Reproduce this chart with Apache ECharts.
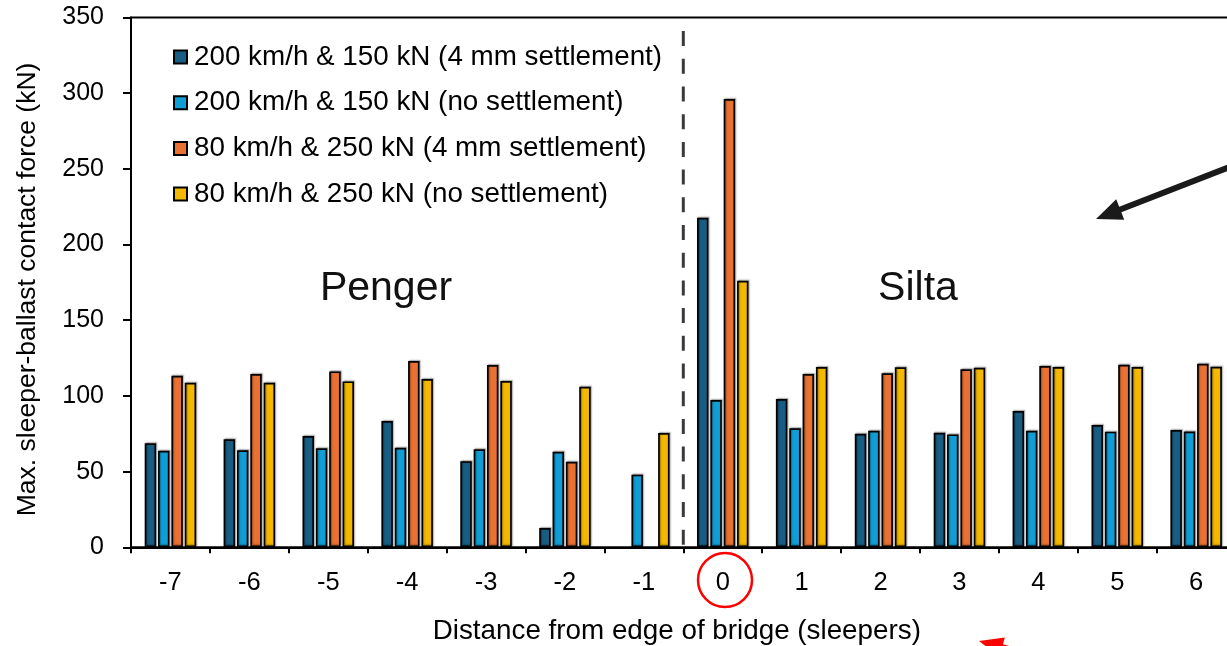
<!DOCTYPE html>
<html>
<head>
<meta charset="utf-8">
<title>Max. sleeper-ballast contact force</title>
<script src="https://cdn.jsdelivr.net/npm/echarts@6/dist/echarts.min.js"></script>
<style>
  html, body { margin: 0; padding: 0; background: #fff; }
  #chart { width: 1227px; height: 646px; }
</style>
</head>
<body>
<div id="chart"></div>
<script>
// Sleeper positions relative to the bridge edge (negative = embankment side)
const categories = ['-7', '-6', '-5', '-4', '-3', '-2', '-1', '0', '1', '2', '3', '4', '5', '6'];

// Max. sleeper-ballast contact force (kN) per loading case
const fast4mm   = [68.7, 71.3, 73.5, 83.4, 56.8, 12.7, null, 217.7, 98.0, 75.0, 75.7, 90.0, 80.8, 77.5];
const fastFlat  = [63.8, 64.1, 65.4, 65.8, 64.7, 63.1, 48.0, 97.3, 78.6, 77.0, 74.6, 77.0, 76.4, 76.5];
const heavy4mm  = [113.3, 114.5, 116.2, 123.1, 120.4, 56.5, null, 296.1, 114.5, 114.9, 117.6, 119.7, 120.6, 121.3];
const heavyFlat = [108.7, 108.7, 109.6, 111.2, 109.8, 106.1, 75.5, 176.1, 119.1, 118.9, 118.6, 119.1, 119.1, 119.3];

const seriesNames = [
  '200 km/h & 150 kN (4 mm settlement)',
  '200 km/h & 150 kN (no settlement)',
  '80 km/h & 250 kN (4 mm settlement)',
  '80 km/h & 250 kN (no settlement)'
];
const seriesColors = ['#185e84', '#109ed6', '#e97132', '#f5b800'];
const seriesData = [fast4mm, fastFlat, heavy4mm, heavyFlat];

const yTicks = { min: 0, max: 350, interval: 50 };
const bridgeEdge = -0.5;   // boundary between sleeper -1 and sleeper 0

const FONT = '"Liberation Sans", Arial, Helvetica, sans-serif';

const chart = echarts.init(document.getElementById('chart'));

const bars = seriesData.map((d, i) => ({
  name: seriesNames[i],
  type: 'bar',
  data: d,
  barWidth: 11.5,
  barGap: '16%',
  itemStyle: {
    color: seriesColors[i],
    borderColor: '#000',
    borderWidth: 1.7,
    shadowColor: 'rgba(0,0,0,0.35)',
    shadowBlur: 1.5,
    shadowOffsetX: 1,
    shadowOffsetY: -1
  },
  emphasis: { disabled: true },
  animation: false
}));

// Arrow helper: tip point, unit direction pointing toward the tip
function arrow(tip, dir, tailLen, headLen, headHalf, width, color) {
  const back = [-dir[0], -dir[1]];
  const n = [dir[1], -dir[0]];
  const base = [tip[0] + back[0] * headLen, tip[1] + back[1] * headLen];
  const tail = [tip[0] + back[0] * tailLen, tip[1] + back[1] * tailLen];
  return [
    {
      type: 'line', silent: true, z: 50,
      shape: { x1: tail[0], y1: tail[1], x2: base[0] + dir[0] * 2, y2: base[1] + dir[1] * 2 },
      style: { stroke: color, lineWidth: width }
    },
    {
      type: 'polygon', silent: true, z: 50,
      shape: { points: [
        tip,
        [base[0] + n[0] * headHalf, base[1] + n[1] * headHalf],
        [base[0] - n[0] * headHalf, base[1] - n[1] * headHalf]
      ] },
      style: { fill: color }
    }
  ];
}
function unit(dx, dy) { const l = Math.hypot(dx, dy); return [dx / l, dy / l]; }

chart.setOption({
  animation: false,
  backgroundColor: '#fff',
  textStyle: { fontFamily: FONT },
  grid: {
    left: 131, top: 17.5, width: 1104.6, height: 529.8,
    outerBoundsMode: 'none',
    containLabel: false,
    show: true, borderColor: '#000', borderWidth: 2, backgroundColor: 'transparent'
  },
  legend: {
    orient: 'vertical',
    left: 168, top: 37,
    itemWidth: 13, itemHeight: 13,
    itemGap: 15.7,
    icon: 'rect',
    data: seriesNames,
    selectedMode: false,
    textStyle: { fontFamily: FONT, fontSize: 27.8, color: '#000', lineHeight: 30, padding: [0, 0, 0, 2] }
  },
  xAxis: [
    {
      type: 'category',
      data: categories,
      boundaryGap: true,
      axisLine: { onZero: false, lineStyle: { color: '#000', width: 2 } },
      axisTick: { show: true, length: 6, lineStyle: { color: '#000', width: 2 } },
      axisLabel: { interval: 0, margin: 23, fontSize: 25.5, color: '#000', fontFamily: FONT },
      splitLine: { show: false },
      name: 'Distance from edge of bridge (sleepers)',
      nameLocation: 'middle',
      nameGap: 70,
      nameTextStyle: { fontSize: 27.8, color: '#000', fontFamily: FONT, padding: [0, 13, 0, 0] }
    },
    {
      type: 'value',
      min: -7.5, max: 6.5,
      show: false,
      axisLine: { onZero: false }
    }
  ],
  yAxis: {
    type: 'value',
    min: yTicks.min, max: yTicks.max, interval: yTicks.interval,
    axisLine: { show: true, onZero: false, lineStyle: { color: '#000', width: 2 } },
    axisTick: { show: true, length: 8, lineStyle: { color: '#000', width: 2 } },
    axisLabel: { margin: 27, fontSize: 25, color: '#000', fontFamily: FONT },
    splitLine: { show: false },
    name: 'Max. sleeper-ballast contact force (kN)',
    nameLocation: 'middle',
    nameGap: 90,
    nameTextStyle: { fontSize: 26.5, color: '#000', fontFamily: FONT, padding: [0, 14, 0, 0] }
  },
  series: bars.concat([{
    name: 'bridge edge',
    type: 'line',
    xAxisIndex: 1,
    yAxisIndex: 0,
    data: [[bridgeEdge, 341], [bridgeEdge, 0]],
    symbol: 'none',
    silent: true,
    z: 5,
    lineStyle: { color: '#3a3a3a', width: 3, type: [15, 12.7] },
    animation: false
  }]),
  graphic: [
    {
      type: 'text', silent: true,
      x: 386, y: 289,
      style: { text: 'Penger', font: '41px ' + FONT, fill: '#111', align: 'center', verticalAlign: 'middle' }
    },
    {
      type: 'text', silent: true,
      x: 918, y: 289,
      style: { text: 'Silta', font: '41px ' + FONT, fill: '#111', align: 'center', verticalAlign: 'middle' }
    },
    {
      type: 'circle', silent: true, z: 50,
      shape: { cx: 725, cy: 580, r: 27 },
      style: { stroke: '#ff0000', lineWidth: 2.5, fill: 'none' }
    }
  ]
    .concat(arrow([1096, 219], unit(-131, 51), 160, 26, 11, 6, '#1a1a1a'))
    .concat(arrow([979, 641], unit(-0.966, -0.259), 120, 24, 10, 6, '#ff0000'))
});
</script>
</body>
</html>
